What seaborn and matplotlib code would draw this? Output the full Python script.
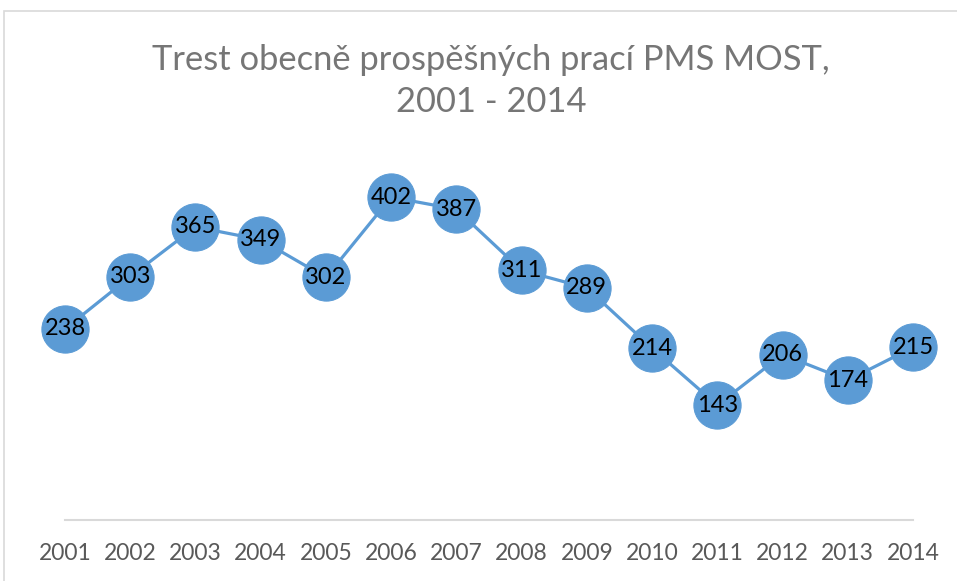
import matplotlib
matplotlib.use("Agg")
import matplotlib.pyplot as plt
from matplotlib.patches import Rectangle
import seaborn as sns
import pandas as pd

years = [2001, 2002, 2003, 2004, 2005, 2006, 2007, 2008, 2009, 2010, 2011, 2012, 2013, 2014]
counts = [238, 303, 365, 349, 302, 402, 387, 311, 289, 214, 143, 206, 174, 215]
title = "Trest obecně prospěšných prací PMS MOST,\n2001 - 2014"

df = pd.DataFrame({"rok": years, "pocet": counts})

sns.set_theme(style="white")
plt.rcParams["font.family"] = ["Lato", "DejaVu Sans"]

W, H = 957, 581
fig = plt.figure(figsize=(W / 100, H / 100), dpi=100)
fig.patches.append(Rectangle((4 / W, -0.1), 1.2, (H - 11) / H + 0.1,
                             transform=fig.transFigure, fill=False,
                             edgecolor="#D9D9D9", linewidth=1.2))

ax = fig.add_axes([65 / W, (H - 520) / H, (913 - 65) / W, (520 - 118.5) / H])
blue = "#5B9BD5"
sns.lineplot(data=df, x="rok", y="pocet", ax=ax, color=blue, linewidth=2.3,
             marker="o", markersize=34, markeredgecolor=blue, markerfacecolor=blue,
             clip_on=False)

for x, y in zip(years, counts):
    ax.text(x, y, str(y), ha="center", va="center", fontsize=17, color="black",
            zorder=5)

ax.set_xlim(years[0], years[-1])
ax.set_ylim(0, 500)
ax.set_xticks(years)
ax.set_xticklabels([str(y) for y in years], fontsize=16.5, color="#595959")
ax.set_yticks([])
ax.set_xlabel("")
ax.set_ylabel("")
ax.tick_params(axis="x", length=0, pad=16.5)
for s in ("left", "right", "top"):
    ax.spines[s].set_visible(False)
ax.spines["bottom"].set_color("#D9D9D9")
ax.spines["bottom"].set_linewidth(1.5)

fig.text(491 / W, 1 - 81 / H, title, ha="center", va="center", fontsize=24.8,
         color="#767676", linespacing=1.38)

fig.savefig("out.png", dpi=100)
